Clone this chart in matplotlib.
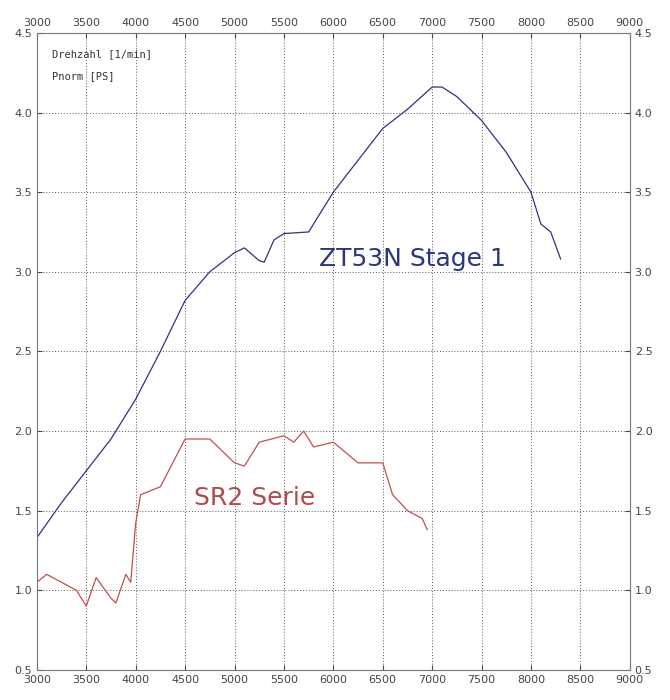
import matplotlib
matplotlib.use("Agg")
import matplotlib.pyplot as plt

blue_rpm = [3000,3250,3500,3750,4000,4250,4500,4750,5000,5100,5250,5300,5400,5500,5750,6000,6250,6500,6750,7000,7100,7250,7500,7750,8000,8100,8200,8300]
blue_ps  = [1.33,1.55,1.75,1.95,2.2,2.5,2.82,3.0,3.12,3.15,3.07,3.06,3.2,3.24,3.25,3.5,3.7,3.9,4.02,4.16,4.16,4.1,3.95,3.75,3.5,3.3,3.25,3.08]
red_rpm = [3000,3100,3250,3400,3500,3600,3750,3800,3900,3950,4000,4050,4250,4500,4750,5000,5100,5250,5500,5600,5700,5800,6000,6250,6500,6600,6750,6900,6950]
red_ps  = [1.05,1.1,1.05,1.0,0.9,1.08,0.95,0.92,1.1,1.05,1.42,1.6,1.65,1.95,1.95,1.8,1.78,1.93,1.97,1.93,2.0,1.9,1.93,1.8,1.8,1.6,1.5,1.45,1.38]
xticks = list(range(3000, 9001, 500))
yticks = [0.5,1.0,1.5,2.0,2.5,3.0,3.5,4.0,4.5]

fig = plt.figure(figsize=(6.7,7), dpi=100)
ax = fig.add_axes([0.055, 0.043, 0.885, 0.91])
ax.plot(blue_rpm, blue_ps, color="#2b3580", lw=0.9)
ax.plot(red_rpm, red_ps, color="#c0504d", lw=0.9)
ax.set_xlim(3000, 9000); ax.set_ylim(0.5, 4.5)
ax.set_xticks(xticks); ax.set_yticks(yticks)
ax.set_yticklabels([f"{v:.1f}" for v in yticks])
ax.tick_params(labelsize=8, top=True, labeltop=True, right=True, labelright=True, direction="in", colors="#444444")
ax.grid(True, linestyle=(0,(1,2)), color="#555555", lw=0.7)
for s in ax.spines.values(): s.set_color("#777777")
ax.text(0.025, 0.975, "Drehzahl [1/min]", transform=ax.transAxes, fontsize=7.5, family="DejaVu Sans Mono", va="top", color="#333333")
ax.text(0.025, 0.94, "Pnorm [PS]", transform=ax.transAxes, fontsize=7.5, family="DejaVu Sans Mono", va="top", color="#333333")
ax.text(6800, 3.08, "ZT53N Stage 1", fontsize=18, color="#2b3580", ha="center", va="center")
ax.text(5200, 1.58, "SR2 Serie", fontsize=18, color="#b04a50", ha="center", va="center")
fig.savefig("out.png", dpi=100)
